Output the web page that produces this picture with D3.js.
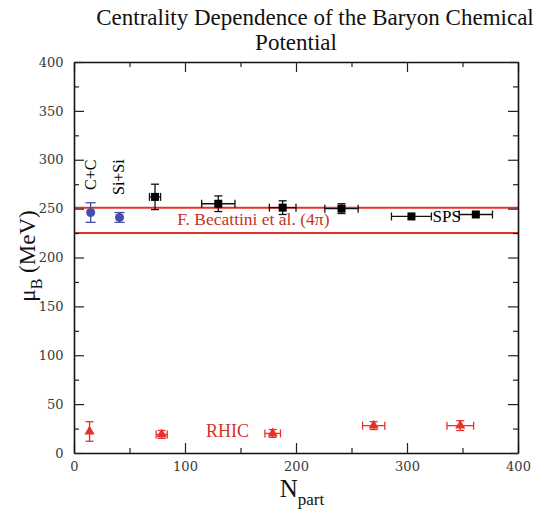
<!DOCTYPE html>
<html>
<head>
  <style type="text/css">
    body { margin: 0; background: #fff; }
    svg { display: block; }
    text { font-family: "Liberation Serif", "DejaVu Serif", serif; }
  </style>
</head>
<body>
<svg id='vis' width='551' height='515'></svg>

<script src="https://cdnjs.cloudflare.com/ajax/libs/d3/7.8.5/d3.min.js"></script>
<script type="text/javascript">

  /* values */
  var lightIons = [
    { name: 'C+C',   n: 15, mu: 246, ey: 10, ex: 0 },
    { name: 'Si+Si', n: 41, mu: 241, ey: 5,  ex: 0 }
  ];
  var spsN   = [73, 130, 188, 241, 304, 362];
  var spsMu  = [262, 255, 251, 250, 242, 244];
  var spsEy  = [13, 8, 7, 5, 0, 0];
  var spsEx  = [5, 15, 12, 15, 18, 15];

  var rhicN  = [14, 79, 179, 270, 348];
  var rhicMu = [22, 19, 20, 28, 28];
  var rhicEy = [10, 4, 4, 4, 5];
  var rhicEx = [0, 5, 7, 10, 12];

  var becattini = [251, 225];   // red band limits

  var xTicks = [0, 100, 200, 300, 400];
  var yTicks = [0, 50, 100, 150, 200, 250, 300, 350, 400];
  var xMinor = [50, 150, 250, 350];
  var yMinor = [25, 75, 125, 175, 225, 275, 325, 375];

  var margin = { top: 62, right: 33, bottom: 62, left: 74 },
      width = 551, height = 515,
      red = '#e8302a', blue = '#4250a8';

  var svg = d3.select('#vis');

  var x = d3.scaleLinear().domain([0, 400]).range([margin.left, width - margin.right]);
  var y = d3.scaleLinear().domain([0, 400]).range([height - margin.bottom, margin.top]);

  // becattini lines
  svg.selectAll('line.band')
    .data(becattini)
    .enter().append('line')
      .attr('class', 'band')
      .attr('x1', x(0)).attr('x2', x(400))
      .attr('y1', function(d) { return y(d) }).attr('y2', function(d) { return y(d) })
      .attr('stroke', red).attr('stroke-width', 2);

  // frame: ticks point inward, minor ticks in between
  function frame(axisFn, scale, tr, ticks, minor, show) {
    var gMaj = svg.append('g').attr('transform', tr)
      .call(axisFn(scale).tickValues(ticks).tickSizeInner(-10).tickSizeOuter(0).tickPadding(show ? 13 : 0)
        .tickFormat(show ? d3.format('d') : ''));
    svg.append('g').attr('transform', tr)
      .call(axisFn(scale).tickValues(minor).tickSizeInner(-5).tickSizeOuter(0).tickFormat(''))
      .select('.domain').remove();
    gMaj.select('.domain').attr('stroke', '#111').attr('stroke-width', 1.6);
    return gMaj;
  }

  var gx = frame(d3.axisBottom, x, 'translate(0,' + y(0) + ')', xTicks, xMinor, true);
  frame(d3.axisTop, x, 'translate(0,' + y(400) + ')', xTicks, xMinor, false);
  var gy = frame(d3.axisLeft, y, 'translate(' + x(0) + ',0)', yTicks, yMinor, true);
  frame(d3.axisRight, y, 'translate(' + x(400) + ',0)', yTicks, yMinor, false);

  svg.selectAll('.tick line').attr('stroke', '#222').attr('stroke-width', 1.2);
  gx.selectAll('.tick text').attr('fill', '#3a3a3a').attr('dy', '0.4em')
    .style('font-family', '"DejaVu Serif", serif').attr('font-size', 13);
  gy.selectAll('.tick text').attr('fill', '#3a3a3a').attr('dx', '0.2em')
    .style('font-family', '"DejaVu Serif", serif').attr('font-size', 13);

  // error bars
  function errBars(data, color, cap) {
    var g = svg.append('g').attr('stroke', color).attr('stroke-width', 1.3);
    data.forEach(function(d) {
      if (d.ey > 0) {
        g.append('line').attr('x1', x(d.n)).attr('x2', x(d.n)).attr('y1', y(d.mu - d.ey)).attr('y2', y(d.mu + d.ey));
        [d.mu - d.ey, d.mu + d.ey].forEach(function(v) {
          g.append('line').attr('x1', x(d.n) - cap).attr('x2', x(d.n) + cap).attr('y1', y(v)).attr('y2', y(v));
        });
      }
      if (d.ex > 0) {
        g.append('line').attr('x1', x(d.n - d.ex)).attr('x2', x(d.n + d.ex)).attr('y1', y(d.mu)).attr('y2', y(d.mu));
        [d.n - d.ex, d.n + d.ex].forEach(function(v) {
          g.append('line').attr('x1', x(v)).attr('x2', x(v)).attr('y1', y(d.mu) - cap).attr('y2', y(d.mu) + cap);
        });
      }
    });
  }

  var sps = spsN.map(function(n, i) { return { n: n, mu: spsMu[i], ey: spsEy[i], ex: spsEx[i] } });
  var rhic = rhicN.map(function(n, i) { return { n: n, mu: rhicMu[i], ey: rhicEy[i], ex: rhicEx[i] } });

  errBars(lightIons, blue, 5);
  errBars(sps, '#111', 4);
  errBars(rhic, red, 4);

  svg.selectAll('circle.light')
    .data(lightIons)
    .enter().append('circle')
      .attr('cx', function(d) { return x(d.n) })
      .attr('cy', function(d) { return y(d.mu) })
      .attr('r', 4.5)
      .attr('fill', blue);

  svg.selectAll('rect.sps')
    .data(sps)
    .enter().append('rect')
      .attr('x', function(d) { return x(d.n) - 4 })
      .attr('y', function(d) { return y(d.mu) - 4 })
      .attr('width', 8).attr('height', 8)
      .attr('fill', '#000');

  var tri = d3.symbol().type(d3.symbolTriangle).size(45);
  svg.selectAll('path.rhic')
    .data(rhic)
    .enter().append('path')
      .attr('d', tri)
      .attr('transform', function(d) { return 'translate(' + x(d.n) + ',' + y(d.mu) + ')' })
      .attr('fill', red);

  // annotations
  svg.append('text')
    .attr('transform', 'translate(' + (x(lightIons[0].n) + 5) + ',190) rotate(-90)')
    .attr('font-size', 16).text('C+C');
  svg.append('text')
    .attr('transform', 'translate(' + (x(lightIons[1].n) + 4) + ',195) rotate(-90)')
    .attr('font-size', 16).text('Si+Si');

  svg.append('text').attr('x', x(93)).attr('y', y(227) - 6)
    .attr('fill', '#c8322c').attr('font-size', 17.5).text('F. Becattini et al. (4\u03c0)');
  svg.append('text').attr('x', x(323)).attr('y', y(236))
    .attr('fill', '#000').attr('font-size', 17).text('SPS');
  svg.append('text').attr('x', x(119)).attr('y', y(16))
    .attr('fill', '#d6322c').attr('font-size', 18).text('RHIC');

  // title
  svg.append('text').attr('x', 315).attr('y', 25).attr('text-anchor', 'middle')
    .attr('font-size', 23).attr('fill', '#111').text('Centrality Dependence of the Baryon Chemical');
  svg.append('text').attr('x', 296).attr('y', 50).attr('text-anchor', 'middle')
    .attr('font-size', 23).attr('fill', '#111').text('Potential');

  // axis labels
  var xl = svg.append('text').attr('x', 302).attr('y', 497).attr('text-anchor', 'middle')
    .attr('font-size', 25).attr('fill', '#111');
  xl.append('tspan').text('N');
  xl.append('tspan').attr('font-size', 17).attr('dy', 8).text('part');

  var yl = svg.append('text').attr('transform', 'translate(35,256) rotate(-90)')
    .attr('text-anchor', 'middle').attr('font-size', 23).attr('fill', '#111');
  yl.append('tspan').text('\u03bc');
  yl.append('tspan').attr('font-size', 16).attr('dy', 7).text('B');
  yl.append('tspan').attr('dy', -7).text(' (MeV)');

</script>
</body>
</html>
